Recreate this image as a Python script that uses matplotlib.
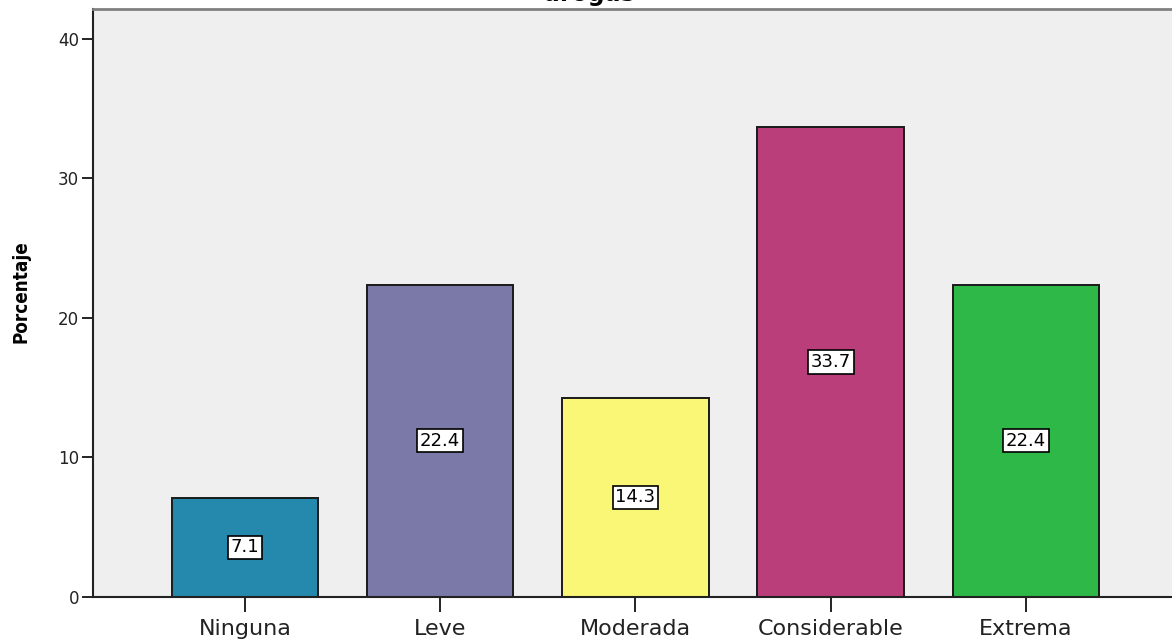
import matplotlib
matplotlib.use("Agg")
import matplotlib.pyplot as plt
from matplotlib import font_manager
import numpy as np

categories = ["Ninguna", "Leve", "Moderada", "Considerable", "Extrema"]
percentages = [7.1, 22.4, 14.3, 33.7, 22.4]
bar_colors = ["#2589ad", "#7a79a7", "#faf776", "#ba3e7a", "#2eb848"]
y_ticks = [0, 10, 20, 30, 40]

W, H = 1172, 642
fig = plt.figure(figsize=(W / 100, H / 100), dpi=100)
fig.patch.set_facecolor("white")

left, bottom, top = 93 / W, 45 / H, 1 - 9 / H
ax = fig.add_axes([left, bottom, 1.0 - left, top - bottom])
ax.set_facecolor("#efefef")

x = np.arange(len(categories))
ax.bar(x, percentages, width=0.75, color=bar_colors,
       edgecolor="#1a1a1a", linewidth=1.4, zorder=2)

for xi, v in zip(x, percentages):
    ax.text(xi, v / 2, f"{v:.1f}", ha="center", va="center",
            fontsize=13, family="DejaVu Sans", color="black", zorder=3,
            bbox=dict(boxstyle="square,pad=0.15", facecolor="white",
                      edgecolor="black", linewidth=1.2))

ax.set_xlim(-0.778, 4.748)
ax.set_ylim(0, 42.15)
ax.set_xticks(x)
ax.set_xticklabels(categories, fontsize=16, family="DejaVu Sans")
ax.set_yticks(y_ticks)
ax.set_yticklabels([str(t) for t in y_ticks], fontsize=12, family="DejaVu Sans")

ax.tick_params(axis="x", length=11, width=1.4, pad=5, colors="#222222")
ax.tick_params(axis="y", length=8, width=1.4, pad=2, colors="#222222")

ax.spines["right"].set_visible(False)
ax.spines["left"].set_color("#222222")
ax.spines["left"].set_linewidth(1.5)
ax.spines["bottom"].set_color("#222222")
ax.spines["bottom"].set_linewidth(1.5)
ax.spines["top"].set_color("#808080")
ax.spines["top"].set_linewidth(2)

# narrow bold face for the axis title, if one is available
installed = {f.name for f in font_manager.fontManager.ttflist}
if "Liberation Sans Narrow" in installed:
    ylabel_font = dict(family="Liberation Sans Narrow", fontsize=16)
else:
    ylabel_font = dict(family="DejaVu Sans", stretch="condensed", fontsize=13.5)
ax.set_ylabel("Porcentaje", fontweight="bold", **ylabel_font)
ax.yaxis.set_label_coords(-0.058, 0.519)

fig.text(0.502, 1 - 1 / H, "drogas", ha="center", va="baseline",
         fontsize=17, fontweight="bold", family="DejaVu Sans")

fig.savefig("out.png", dpi=100)
